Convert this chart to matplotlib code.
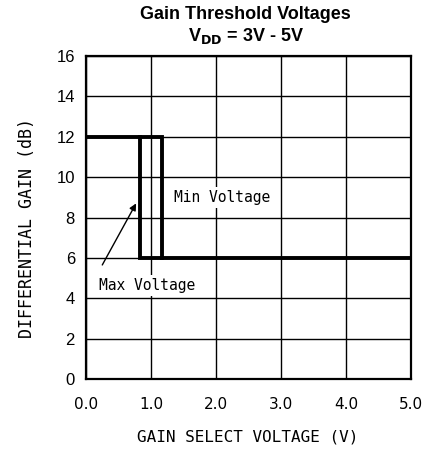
import matplotlib
matplotlib.use("Agg")
import matplotlib.pyplot as plt

# data
volt_top = [0.0, 1.17, 1.17]
gain_top = [12, 12, 6]
volt_bot = [0.83, 0.83, 5.0]
gain_bot = [12, 6, 6]
xticks = [0, 1, 2, 3, 4, 5]
xtick_labels = ["0.0", "1.0", "2.0", "3.0", "4.0", "5.0"]
yticks = [0, 2, 4, 6, 8, 10, 12, 14, 16]

mono = "DejaVu Sans Mono"

fig = plt.figure(figsize=(4.25, 4.49), dpi=100)
ax = fig.add_axes([0.2024, 0.156, 0.765, 0.719])

ax.set_xlim(0, 5)
ax.set_ylim(0, 16)
ax.set_xticks(xticks)
ax.set_xticklabels(xtick_labels, fontfamily="DejaVu Sans", fontsize=11)
ax.set_yticks(yticks)
ax.set_yticklabels([str(v) for v in yticks], fontfamily="Liberation Sans", fontsize=12)
ax.tick_params(axis="y", length=0, pad=8)
ax.tick_params(axis="x", length=0, pad=13)
ax.grid(True, color="black", linewidth=1.0)
for s in ax.spines.values():
    s.set_linewidth(1.6)

ax.plot(volt_top, gain_top, color="black", linewidth=2.8, solid_joinstyle="miter")
ax.plot(volt_bot, gain_bot, color="black", linewidth=2.8, solid_joinstyle="miter")

ax.text(1.35, 9.0, "Min Voltage", fontfamily=mono, fontsize=10.5,
        va="center", ha="left", bbox=dict(facecolor="white", edgecolor="none", pad=2))
ax.text(0.2, 5.0, "Max Voltage", fontfamily=mono, fontsize=10.5,
        va="top", ha="left", bbox=dict(facecolor="white", edgecolor="none", pad=2))
ax.annotate("", xy=(0.77, 8.7), xytext=(0.25, 5.65),
            arrowprops=dict(arrowstyle="-|>", color="black", lw=1.0,
                            mutation_scale=10, shrinkA=0, shrinkB=0))

fig.text(248 / 425, 1 - 437 / 449, "GAIN SELECT VOLTAGE (V)", ha="center", va="center",
         fontfamily=mono, fontsize=11.5)
fig.text(27 / 425, 1 - 228 / 449, "DIFFERENTIAL GAIN (dB)", ha="center", va="center",
         rotation=90, fontfamily=mono, fontsize=12)

fig.text(0.578, 0.968, "Gain Threshold Voltages", ha="center", va="center",
         fontfamily="Liberation Sans", fontweight="bold", fontsize=13)
fig.text(0.578, 0.92, "V$_{\\mathbf{DD}}$ = 3V - 5V", ha="center", va="center",
         fontfamily="Liberation Sans", fontweight="bold", fontsize=13)

fig.savefig("out.png", dpi=100)
